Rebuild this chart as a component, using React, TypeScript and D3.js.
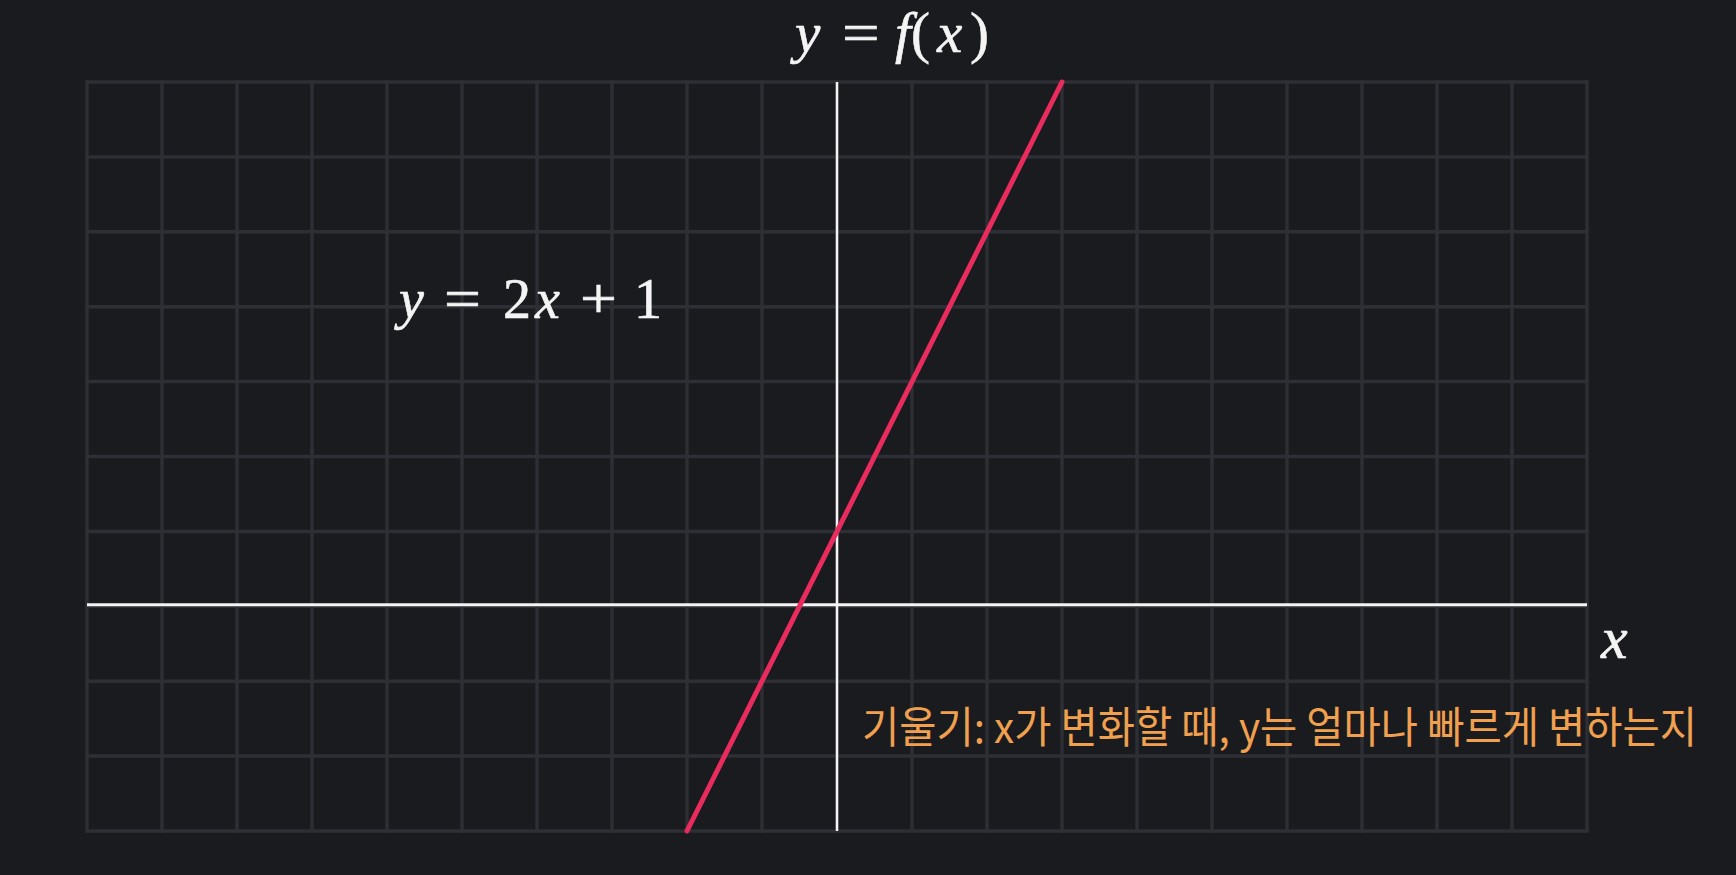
import React from "react";
import * as d3 from "d3";

// grid extent in graph units
const xDomain = [-10, 10];
const yDomain = [-3, 7];

// y = 2x + 1, end points as they sit on the picture
const lineXs = [-2, 3];
const lineYs = [-3, 7];

// math labels split into glyph pieces: [text, italic, left x]
const titleParts: [string, boolean, number][] = [
  ["y", true, 795],
  ["=", false, 842],
  ["f", true, 895],
  ["(", false, 911],
  ["x", true, 937],
  [")", false, 970],
];
const formulaParts: [string, boolean, number][] = [
  ["y", true, 399],
  ["=", false, 444],
  ["2", false, 503],
  ["x", true, 535],
  ["+", false, 580],
  ["1", false, 634],
];
const axisLabel = "x";
const noteText = "기울기: x가 변화할 때, y는 얼마나 빠르게 변하는지";

const W = 1736;
const H = 875;

const App = () => {
  const x = d3.scaleLinear().domain(xDomain).range([87, 1587]);
  const y = d3.scaleLinear().domain(yDomain).range([831, 82]);

  const xTicks = d3.range(xDomain[0], xDomain[1] + 1);
  const yTicks = d3.range(yDomain[0], yDomain[1] + 1);

  const pts: [number, number][] = lineXs.map((v, i) => [v, lineYs[i]]);
  const line = d3.line<[number, number]>()
    .x((d) => x(d[0]))
    .y((d) => y(d[1]));

  const serif = "'Liberation Serif', 'DejaVu Serif', serif";

  const mathText = (parts: [string, boolean, number][], baseY: number, size: number) =>
    parts.map(([t, it, px], i) => {
      const op = t === "=" || t === "+";
      return (
        <text
          key={i}
          x={px}
          y={baseY}
          fill="#f4f4f4"
          stroke="#f4f4f4"
          strokeWidth={0.6}
          fontFamily={serif}
          fontSize={size}
          fontStyle={it ? "italic" : "normal"}
          textLength={op ? size * 0.66 : undefined}
          lengthAdjust={op ? "spacingAndGlyphs" : undefined}
        >
          {t}
        </text>
      );
    });

  return (
    <svg
      width={W}
      height={H}
      style={{ position: "absolute", left: 0, top: 0, display: "block" }}
    >
      <rect width={W} height={H} fill="#1a1b1f" />

      {/* grid */}
      <g stroke="#2e2f34" strokeWidth={3.5}>
        {xTicks.map((t) => (
          <line key={"gx" + t} x1={x(t)} x2={x(t)} y1={y(yDomain[0]) + 1.5} y2={y(yDomain[1]) - 1.5} />
        ))}
        {yTicks.map((t) => (
          <line key={"gy" + t} x1={x(xDomain[0]) - 1.5} x2={x(xDomain[1]) + 1.5} y1={y(t)} y2={y(t)} />
        ))}
      </g>

      {/* axes */}
      <line x1={x(xDomain[0])} x2={x(xDomain[1])} y1={y(0) - 1.5} y2={y(0) - 1.5} stroke="#f4f4f4" strokeWidth={3} />
      <line x1={x(0)} x2={x(0)} y1={y(yDomain[0])} y2={y(yDomain[1])} stroke="#f4f4f4" strokeWidth={2.5} />

      {/* function */}
      <path d={line(pts) ?? ""} fill="none" stroke="#ea2b5e" strokeWidth={5} strokeLinecap="round" />

      {/* title */}
      <g>{mathText(titleParts, 52, 57)}</g>

      {/* formula */}
      <g>{mathText(formulaParts, 318, 56)}</g>

      {/* axis label */}
      <text x={1601} y={658} fill="#f4f4f4" stroke="#f4f4f4" strokeWidth={0.6} fontFamily={serif} fontSize={60} fontStyle="italic">
        {axisLabel}
      </text>

      {/* note */}
      <text
        x={862}
        y={743}
        fill="#f0a04e"
        fontFamily="'Noto Sans CJK KR', 'Noto Sans', sans-serif"
        fontSize={43}
        textLength={835}
        lengthAdjust="spacingAndGlyphs"
      >
        {noteText}
      </text>
    </svg>
  );
};

export default App;
